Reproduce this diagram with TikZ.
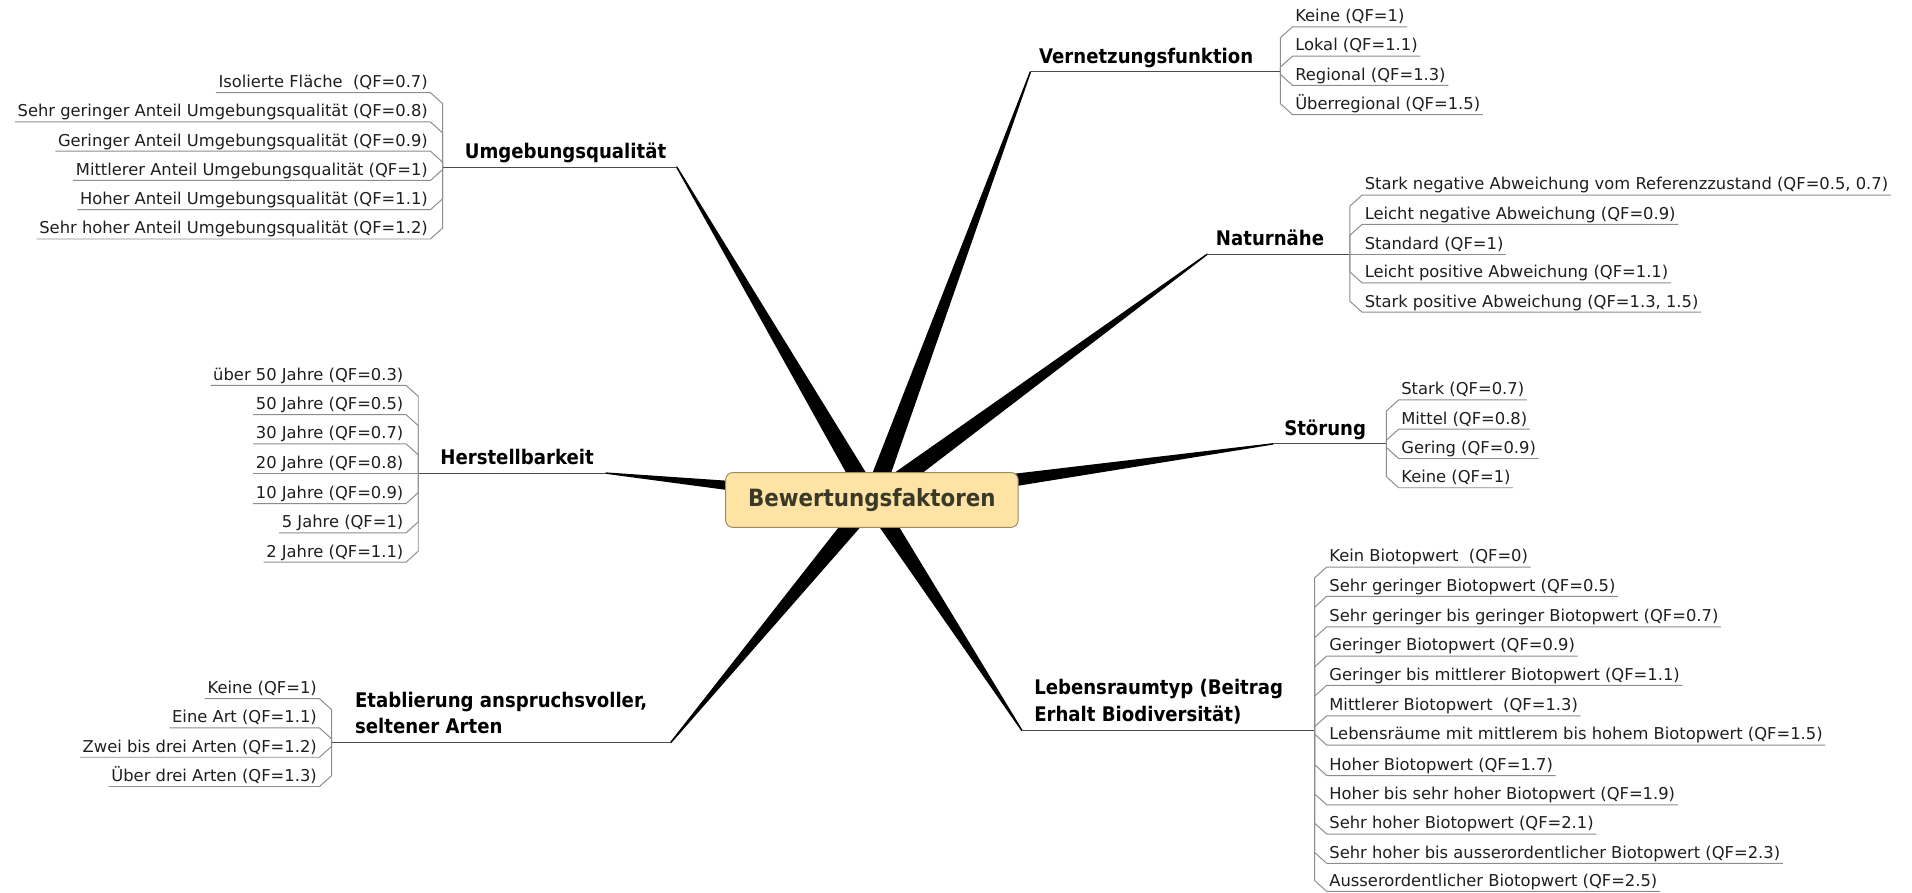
\documentclass[tikz,border=0pt]{standalone}
\usepackage{fontspec}
\setmainfont{DejaVu Sans}
\newfontfamily\topicfont{DejaVu Sans}[FakeStretch=0.9]
\usetikzlibrary{calc}
\definecolor{boxfill}{HTML}{FDE3A4}
\definecolor{boxdraw}{HTML}{A08B5C}
\definecolor{boxtext}{HTML}{3A3826}
\definecolor{childline}{HTML}{8C8C8C}
\definecolor{mainline}{HTML}{4A4A4A}
\definecolor{txt}{HTML}{1E1E1E}
\tikzset{
  childR/.style={anchor=south west, inner xsep=2pt, inner ysep=0pt, text depth=4pt,
    font=\fontsize{13.4}{16}\selectfont, text=txt},
  childL/.style={childR, anchor=south east},
  topic/.style={anchor=south west, inner sep=0pt, text depth=7pt, align=left,
    font=\topicfont\bfseries\fontsize{16.5}{22}\selectfont, text=black},
  cline/.style={draw=childline, line width=0.8pt, line join=round},
  mline/.style={draw=mainline, line width=0.9pt},
  wedgefill/.style={fill=black, draw=black, line width=1.2pt, line join=round},
  centralbox/.style={draw=boxdraw, fill=boxfill, rounded corners=6pt, line width=0.8pt,
    minimum width=240pt, minimum height=45pt, text=boxtext,
    font=\topicfont\bfseries\fontsize{19.5}{22}\selectfont}
}
\newcommand\wedgeto[2]{\filldraw[wedgefill] ($(#1)!7pt!90:(#2)$) -- (#2) -- ($(#1)!7pt!-90:(#2)$) -- cycle;}
\newcommand\rconn[3]{\draw[cline] (#1) -- ($(#1 |- #2.south west)+(0,#3)$) -- (#2.south west) -- (#2.south east);}
\newcommand\lconn[3]{\draw[cline] (#1) -- ($(#1 |- #2.south east)+(0,#3)$) -- (#2.south east) -- (#2.south west);}
\begin{document}
\begin{tikzpicture}[x=1pt,y=-1pt]
\useasboundingbox (0,0) rectangle (1568,732.3);
\coordinate (c0) at (715,410);
% ends of the tapered branches
\coordinate (eV) at (845,59);
\coordinate (eN) at (990,208.5);
\coordinate (eS) at (1044,364);
\coordinate (eL) at (838,599);
\coordinate (eU) at (555,137);
\coordinate (eH) at (497,388);
\coordinate (eE) at (550,609);
% junctions (spines)
\coordinate (jV) at (1050,59);
\coordinate (jN) at (1107,208.5);
\coordinate (jS) at (1137,364);
\coordinate (jL) at (1078,599);
\coordinate (jU) at (363,137);
\coordinate (jH) at (343,388);
\coordinate (jE) at (272,609);
% branches
\wedgeto{c0}{eV}
\wedgeto{c0}{eN}
\wedgeto{c0}{eS}
\wedgeto{c0}{eL}
\wedgeto{c0}{eU}
\wedgeto{c0}{eH}
\wedgeto{c0}{eE}
\draw[mline] (eV) -- (jV);
\draw[mline] (eN) -- (jN);
\draw[mline] (eS) -- (jS);
\draw[mline] (eL) -- (jL);
\draw[mline] (eU) -- (jU);
\draw[mline] (eH) -- (jH);
\draw[mline] (eE) -- (jE);
% central topic
\node[centralbox] (ctr) at (c0) {Bewertungsfaktoren};
% main topics
\node[topic] (tV) at (852,59) {Vernetzungsfunktion};
\node[topic] (tN) at (997,208.5) {Naturnähe};
\node[topic] (tS) at (1053,364) {Störung};
\node[topic] (tL) at (848,599) {Lebensraumtyp (Beitrag\\Erhalt Biodiversität)};
\node[topic] (tU) at (381,137) {Umgebungsqualität};
\node[topic] (tH) at (361,388) {Herstellbarkeit};
\node[topic] (tE) at (291,609) {Etablierung anspruchsvoller,\\seltener Arten};
% Vernetzungsfunktion
\node[childR] (v1) at (1060,22) {Keine (QF=1)};
\node[childR] (v2) at (1060,46) {Lokal (QF=1.1)};
\node[childR] (v3) at (1060,70) {Regional (QF=1.3)};
\node[childR] (v4) at (1060,94) {Überregional (QF=1.5)};
\rconn{jV}{v1}{9} \rconn{jV}{v2}{9} \rconn{jV}{v3}{-9} \rconn{jV}{v4}{-9}
% Naturnaehe
\node[childR] (n1) at (1117,160) {Stark negative Abweichung vom Referenzzustand (QF=0.5, 0.7)};
\node[childR] (n2) at (1117,184) {Leicht negative Abweichung (QF=0.9)};
\node[childR] (n3) at (1117,208.5) {Standard (QF=1)};
\node[childR] (n4) at (1117,232) {Leicht positive Abweichung (QF=1.1)};
\node[childR] (n5) at (1117,256) {Stark positive Abweichung (QF=1.3, 1.5)};
\rconn{jN}{n1}{9} \rconn{jN}{n2}{9} \rconn{jN}{n3}{0} \rconn{jN}{n4}{-9} \rconn{jN}{n5}{-9}
% Stoerung
\node[childR] (s1) at (1147,328) {Stark (QF=0.7)};
\node[childR] (s2) at (1147,352) {Mittel (QF=0.8)};
\node[childR] (s3) at (1147,376) {Gering (QF=0.9)};
\node[childR] (s4) at (1147,400) {Keine (QF=1)};
\rconn{jS}{s1}{9} \rconn{jS}{s2}{9} \rconn{jS}{s3}{-9} \rconn{jS}{s4}{-9}
% Lebensraumtyp
\node[childR] (l1) at (1088,465) {Kein Biotopwert\ \ (QF=0)};
\node[childR] (l2) at (1088,489) {Sehr geringer Biotopwert (QF=0.5)};
\node[childR] (l3) at (1088,514) {Sehr geringer bis geringer Biotopwert (QF=0.7)};
\node[childR] (l4) at (1088,538) {Geringer Biotopwert (QF=0.9)};
\node[childR] (l5) at (1088,562) {Geringer bis mittlerer Biotopwert (QF=1.1)};
\node[childR] (l6) at (1088,587) {Mittlerer Biotopwert\ \ (QF=1.3)};
\node[childR] (l7) at (1088,611) {Lebensräume mit mittlerem bis hohem Biotopwert (QF=1.5)};
\node[childR] (l8) at (1088,636) {Hoher Biotopwert (QF=1.7)};
\node[childR] (l9) at (1088,660) {Hoher bis sehr hoher Biotopwert (QF=1.9)};
\node[childR] (l10) at (1088,684) {Sehr hoher Biotopwert (QF=2.1)};
\node[childR] (l11) at (1088,708) {Sehr hoher bis ausserordentlicher Biotopwert (QF=2.3)};
\node[childR] (l12) at (1088,731) {Ausserordentlicher Biotopwert (QF=2.5)};
\rconn{jL}{l1}{9} \rconn{jL}{l2}{9} \rconn{jL}{l3}{9} \rconn{jL}{l4}{9} \rconn{jL}{l5}{9} \rconn{jL}{l6}{9}
\rconn{jL}{l7}{-9} \rconn{jL}{l8}{-9} \rconn{jL}{l9}{-9} \rconn{jL}{l10}{-9} \rconn{jL}{l11}{-9} \rconn{jL}{l12}{-9}
% Umgebungsqualitaet
\node[childL] (u1) at (353,76) {Isolierte Fläche\ \ (QF=0.7)};
\node[childL] (u2) at (353,100) {Sehr geringer Anteil Umgebungsqualität (QF=0.8)};
\node[childL] (u3) at (353,124) {Geringer Anteil Umgebungsqualität (QF=0.9)};
\node[childL] (u4) at (353,148) {Mittlerer Anteil Umgebungsqualität (QF=1)};
\node[childL] (u5) at (353,172) {Hoher Anteil Umgebungsqualität (QF=1.1)};
\node[childL] (u6) at (353,196) {Sehr hoher Anteil Umgebungsqualität (QF=1.2)};
\lconn{jU}{u1}{9} \lconn{jU}{u2}{9} \lconn{jU}{u3}{9} \lconn{jU}{u4}{-9} \lconn{jU}{u5}{-9} \lconn{jU}{u6}{-9}
% Herstellbarkeit
\node[childL] (h1) at (333,316) {über 50 Jahre (QF=0.3)};
\node[childL] (h2) at (333,340) {50 Jahre (QF=0.5)};
\node[childL] (h3) at (333,364) {30 Jahre (QF=0.7)};
\node[childL] (h4) at (333,388) {20 Jahre (QF=0.8)};
\node[childL] (h5) at (333,413) {10 Jahre (QF=0.9)};
\node[childL] (h6) at (333,437) {5 Jahre (QF=1)};
\node[childL] (h7) at (333,461) {2 Jahre (QF=1.1)};
\lconn{jH}{h1}{9} \lconn{jH}{h2}{9} \lconn{jH}{h3}{9} \lconn{jH}{h4}{0} \lconn{jH}{h5}{-9} \lconn{jH}{h6}{-9} \lconn{jH}{h7}{-9}
% Etablierung
\node[childL] (e1) at (262,573) {Keine (QF=1)};
\node[childL] (e2) at (262,597) {Eine Art (QF=1.1)};
\node[childL] (e3) at (262,621) {Zwei bis drei Arten (QF=1.2)};
\node[childL] (e4) at (262,645) {Über drei Arten (QF=1.3)};
\lconn{jE}{e1}{9} \lconn{jE}{e2}{9} \lconn{jE}{e3}{-9} \lconn{jE}{e4}{-9}
\end{tikzpicture}
\end{document}
